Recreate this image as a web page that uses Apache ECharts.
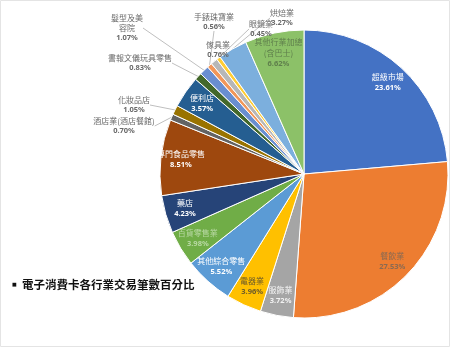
<!DOCTYPE html>
<html>
<head>
<meta charset="utf-8">
<script src="https://cdn.jsdelivr.net/npm/echarts@6/dist/echarts.min.js"></script>
<style>
  html, body { margin: 0; padding: 0; background: #fff; }
  #chart { width: 450px; height: 347px; }
</style>
</head>
<body>
<div id="chart"></div>
<script>
// slices, clockwise from 12 o'clock
const industries = [
  '超級市場', '餐飲業', '服飾業', '電器業', '其他綜合零售', '百貨零售業',
  '藥店', '專門食品零售', '酒店業(酒店餐館)', '化妝品店', '便利店',
  '書報文儀玩具零售', '髮型及美容院', '手錶珠寶業', '傢具業', '眼鏡業',
  '烘焙業', '其他行業加總(含巴士)'
];
const shares = [
  23.61, 27.53, 3.72, 3.96, 5.52, 3.98,
  4.23, 8.51, 0.70, 1.05, 3.57,
  0.83, 1.07, 0.56, 0.76, 0.45,
  3.27, 6.62
];
const insideSlices = [
  '超級市場', '餐飲業', '服飾業', '電器業', '其他綜合零售', '百貨零售業',
  '藥店', '專門食品零售', '便利店', '其他行業加總(含巴士)'
];

const palette = [
  '#4472C4', '#ED7D31', '#A5A5A5', '#FFC000', '#5B9BD5', '#70AD47',
  '#264478', '#9E480E', '#636363', '#997300', '#255E91', '#43682B',
  '#698ED0', '#F1975A', '#B7B7B7', '#FFCD33', '#7CAFDD', '#8CC168'
];
const insideTextColor = {
  '餐飲業': '#8a6a52', '電器業': '#6b5a2a', '服飾業': '#f2f2f2',
  '百貨零售業': '#b9d9a4', '其他行業加總(含巴士)': '#5f7f4c'
};
const wrapped = {
  '其他行業加總(含巴士)': '其他行業加總\n(含巴士)',
  '髮型及美容院': '髮型及美\n容院'
};
// where the outside labels sit
const outsidePos = {
  '酒店業(酒店餐館)': [124, 126],
  '化妝品店': [134, 105],
  '書報文儀玩具零售': [140, 63],
  '髮型及美容院': [127, 28],
  '手錶珠寶業': [214, 22],
  '傢具業': [218, 50],
  '眼鏡業': [261, 29],
  '烘焙業': [282, 18]
};

const center = [304, 174];
const R = 144;

const fmt = p => {
  const n = (wrapped[p.name] || p.name).split('\n').map(s => '{n|' + s + '}').join('\n');
  return n + '\n{v|' + p.value.toFixed(2) + '%}';
};

const mainData = industries.map((name, i) => ({
  name,
  value: shares[i],
  itemStyle: { color: palette[i] },
  label: { show: insideSlices.indexOf(name) < 0 },
  labelLine: { show: insideSlices.indexOf(name) < 0 }
}));

const overlayData = industries.map((name, i) => {
  const c = insideTextColor[name] || '#ffffff';
  return {
    name,
    value: shares[i],
    label: {
      show: insideSlices.indexOf(name) >= 0,
      rich: {
        n: { fontSize: 8, color: c, lineHeight: 11, fontFamily: 'Noto Sans CJK TC' },
        v: { fontSize: 7.5, color: c, fontWeight: 'bold', lineHeight: 11, fontFamily: 'Noto Sans' }
      }
    }
  };
});

const chart = echarts.init(document.getElementById('chart'), null, { renderer: 'canvas' });
chart.setOption({
  animation: false,
  title: {
    text: '{b|■}{t|電子消費卡各行業交易筆數百分比}',
    left: 7,
    top: 274,
    textStyle: {
      rich: {
        b: { fontSize: 5, color: '#111', width: 10, fontFamily: 'DejaVu Sans' },
        t: { fontSize: 11.5, color: '#111', fontFamily: 'Noto Sans CJK TC' }
      }
    }
  },
  graphic: [{
    type: 'rect',
    shape: { x: 0.5, y: 0.5, width: 449, height: 346 },
    style: { fill: 'none', stroke: '#e4e4e4', lineWidth: 1 },
    silent: true
  }],
  series: [
    {
      type: 'pie',
      center,
      radius: [0, R],
      startAngle: 90,
      clockwise: true,
      itemStyle: { borderColor: '#fff', borderWidth: 1 },
      label: {
        position: 'outside',
        formatter: fmt,
        align: 'center',
        rich: {
          n: { fontSize: 8, color: '#6a6a6a', lineHeight: 10, fontFamily: 'Noto Sans CJK TC' },
          v: { fontSize: 7.5, color: '#6a6a6a', fontWeight: 'bold', lineHeight: 10, fontFamily: 'Noto Sans' }
        }
      },
      labelLine: { length: 8, length2: 0, lineStyle: { color: '#bfbfbf', width: 1 } },
      labelLayout: p => {
        const pos = outsidePos[industries[p.dataIndex]];
        if (!pos) return {};
        return { x: pos[0], y: pos[1], align: 'center', verticalAlign: 'middle' };
      },
      data: mainData
    },
    {
      type: 'pie',
      center,
      radius: [R * 0.68, R],
      startAngle: 90,
      clockwise: true,
      silent: true,
      itemStyle: { color: 'rgba(0,0,0,0)' },
      label: { position: 'inside', formatter: fmt, align: 'center' },
      labelLine: { show: false },
      data: overlayData
    }
  ]
});
</script>
</body>
</html>
